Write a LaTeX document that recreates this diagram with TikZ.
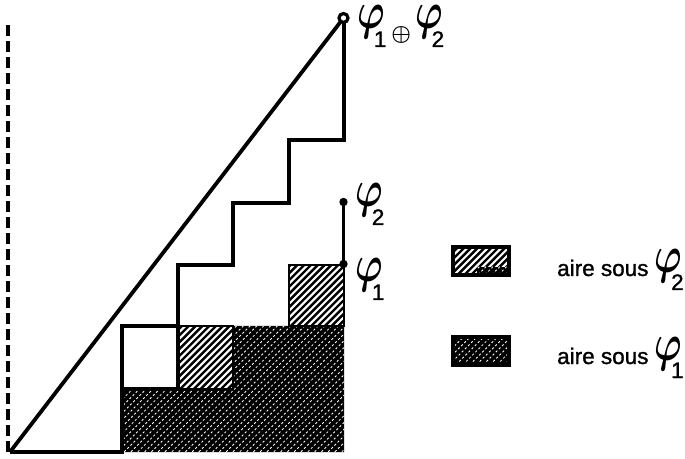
\documentclass[tikz,border=0pt]{standalone}
\usepackage{fontspec}
\setmainfont{Liberation Sans}[FakeBold=1.2]
\usepackage{graphicx}
\newcommand\phg{\raisebox{4pt}{\scalebox{3.7}[5.2]{\fontsize{10}{12}\selectfont\boldmath$\varphi$}}}
\newcommand\phs[1]{\phg\kern-11pt\raisebox{-14pt}{\fontsize{22.5}{22}\selectfont #1}}
\newcommand\lighthatch[1]{%
  \begin{scope}
    \clip #1;
    \foreach \i in {0,6.8,...,1000} \draw[line width=2.4pt] (\i-460,0) -- ++(470,470);
  \end{scope}}
\newcommand\darkhatch[1]{%
  \fill[black] #1;
  \begin{scope}
    \clip #1;
    \foreach \i in {0,6.8,...,1000} \draw[white,line width=0.85pt,dash pattern=on 2.2pt off 2.2pt] (\i-460,0) -- ++(470,470);
  \end{scope}}
\tikzset{
  thickline/.style={line width=4.3pt,line join=miter},
  boxline/.style={line width=2.6pt},
  lbl/.style={anchor=base west,inner sep=0pt,font=\fontsize{22.5}{26}\selectfont},
}
\begin{document}
\begin{tikzpicture}[x=1pt,y=1pt]
\useasboundingbox (0,0) rectangle (685,458);
% key points
\coordinate (O) at (10,6);
\coordinate (T) at (343.5,440);
\coordinate (P2) at (343.5,256);
\coordinate (P1) at (343.5,194);
% dark area (under phi1)
\darkhatch{(122,6) -- (344,6) -- (344,132) -- (233,132) -- (233,69) -- (122,69) -- cycle}
% light hatched boxes (extra under phi2)
\lighthatch{(178,69) rectangle (233,132)}
\draw[boxline] (178,69) rectangle (233,132);
\lighthatch{(289,132) rectangle (344,193)}
\draw[boxline] (289,132) rectangle (344,193);
% white box
\draw[line width=3.4pt] (122,69) rectangle (178,132);
% staircase phi1 (+) phi2
\draw[thickline] (O) -- (122,6) -- (122,132) -- (178,132) -- (178,193) -- (233,193) -- (233,255) -- (289,255) -- (289,318) -- (344,318) -- (344,438);
% diagonal
\draw[line width=3.8pt] (O) -- (T);
% dashed axis
\draw[line width=3.4pt,dash pattern=on 11pt off 5pt] (8,6) -- (8,436);
% phi2 segment and dots
\draw[line width=2.4pt] (P2) -- (P1);
\fill (P2) circle (4.2);
\fill (P1) circle (4.2);
\draw[line width=3.2pt,fill=white] (T) circle (4.5);
% labels
\node[lbl] (lsum) at (357,425) {\phs{1}\kern5pt\raisebox{-8pt}{\scalebox{2.2}{\fontsize{10}{12}\selectfont\boldmath$\oplus$}}\kern4pt\phs{2}};
\node[lbl] (lp2) at (355,247) {\phs{2}};
\node[lbl] (lp1) at (355,172) {\phs{1}};
% legend
\lighthatch{(453,183) rectangle (509,211)}
\darkhatch{(477,183) rectangle (509,191)}
\draw[line width=3.4pt] (453,183) rectangle (509,211);
\node[lbl] (leg2) at (557,182) {aire sous\kern6pt\phs{2}};
\darkhatch{(453,93) rectangle (509,121)}
\draw[line width=3.4pt] (453,93) rectangle (509,121);
\node[lbl] (leg1) at (557,94) {aire sous\kern6pt\phs{1}};
\end{tikzpicture}
\end{document}
